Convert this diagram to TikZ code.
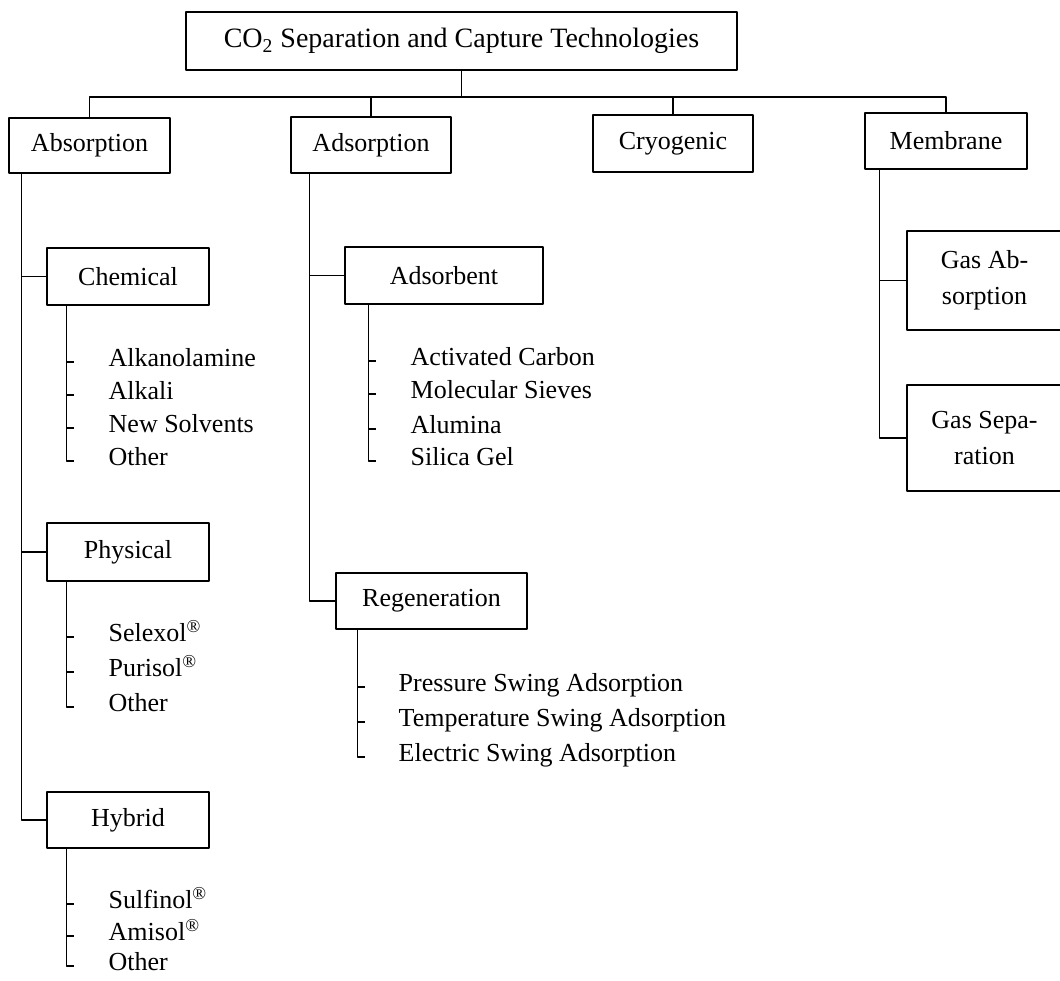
\documentclass[tikz,border=0pt]{standalone}
\usepackage{fontspec}
\setmainfont{Liberation Serif}
\usetikzlibrary{positioning}

\tikzset{
  techbox/.style={draw=black,rectangle,inner sep=0pt,align=center,
    font=\fontsize{13bp}{18bp}\selectfont},
  item/.style={anchor=mid west,inner sep=0pt,yshift=-2bp,
    font=\fontsize{13bp}{15bp}\selectfont},
}
\newcommand{\reg}{\textsuperscript{\textregistered}}

\begin{document}
\begin{tikzpicture}[x=0.5bp,y=-0.5bp,line width=0.7pt,line join=bevel]
\useasboundingbox (0,0) rectangle (1060,981);
\clip (0,0) rectangle (1060,981);
%%
\node (title) at (461.5,41) [techbox,minimum width=275.5bp,minimum height=29bp,
  font=\fontsize{14bp}{16bp}\selectfont] {CO\textsubscript{2} Separation and Capture Technologies};
  \node (absorp) at (89.5,145.5) [techbox,minimum width=80.5bp,minimum height=27.5bp] {Absorption};
  \node (adsorp) at (371,145) [techbox,minimum width=80bp,minimum height=28bp] {Adsorption};
  \node (cryo) at (673,143.5) [techbox,minimum width=80bp,minimum height=28.5bp] {Cryogenic};
  \node (membr) at (946,141) [techbox,minimum width=81bp,minimum height=28bp] {Membrane};
  \coordinate (bus) at (0,97);
%% absorption branch
  \node (chem) at (128,276.5) [techbox,minimum width=81bp,minimum height=28.5bp] {Chemical};
  \node (phys) at (128,552) [techbox,minimum width=81bp,minimum height=29bp] {Physical};
  \node (hyb) at (128,820) [techbox,minimum width=81bp,minimum height=28bp] {Hybrid};
  \node (chem1) at (108,358) [item] {Alkanolamine};
  \node (chem2) at (108,391) [item] {Alkali};
  \node (chem3) at (108,424) [item] {New Solvents};
  \node (chem4) at (108,457) [item] {Other};
  \node (phys1) at (108,633) [item] {Selexol\reg};
  \node (phys2) at (108,668) [item] {Purisol\reg};
  \node (phys3) at (108,703) [item] {Other};
  \node (hyb1) at (108,900) [item] {Sulfinol\reg};
  \node (hyb2) at (108,932) [item] {Amisol\reg};
  \node (hyb3) at (108,962) [item] {Other};
%% adsorption branch
  \node (sorbent) at (444,275.5) [techbox,minimum width=99bp,minimum height=28.5bp] {Adsorbent};
  \node (regen) at (431.5,601) [techbox,minimum width=95.5bp,minimum height=28bp] {Regeneration};
  \node (sorb1) at (410,357) [item] {Activated Carbon};
  \node (sorb2) at (410,390) [item] {Molecular Sieves};
  \node (sorb3) at (410,425) [item] {Alumina};
  \node (sorb4) at (410,457) [item] {Silica Gel};
  \node (regen1) at (398,683) [item] {Pressure Swing Adsorption};
  \node (regen2) at (398,718) [item] {Temperature Swing Adsorption};
  \node (regen3) at (398,753) [item] {Electric Swing Adsorption};
%% membrane branch
  \node (gasabs) at (984.5,280.5) [techbox,minimum width=77.5bp,minimum height=49.5bp] {Gas Ab-\\sorption};
  \node (gassep) at (984.5,438) [techbox,minimum width=77.5bp,minimum height=53bp] {Gas Sepa-\\ration};
%% spines
  \coordinate (abssp) at ([xshift=6.5bp]absorp.south west);
  \coordinate (adssp) at ([xshift=9.5bp]adsorp.south west);
  \coordinate (memsp) at ([xshift=7.5bp]membr.south west);
  \coordinate (chemsp) at ([xshift=10bp]chem.south west);
  \coordinate (physsp) at ([xshift=10bp]phys.south west);
  \coordinate (hybsp) at ([xshift=10bp]hyb.south west);
  \coordinate (sorbsp) at ([xshift=12bp]sorbent.south west);
  \coordinate (regensp) at ([xshift=11bp]regen.south west);
%% top level
  \draw (title) -- (title |- bus);
  \draw (absorp) -- (absorp |- bus) -- (membr |- bus) -- (membr);
  \draw (adsorp) -- (adsorp |- bus);
  \draw (cryo) -- (cryo |- bus);
%% second level
  \draw (abssp) |- (hyb);
  \draw (abssp |- chem.west) -- (chem);
  \draw (abssp |- phys.west) -- (phys);
  \draw (adssp) |- (regen);
  \draw (adssp |- sorbent.west) -- (sorbent);
  \draw (memsp) |- (gassep);
  \draw (memsp |- gasabs.west) -- (gasabs);
%% lists
  \draw (chemsp) -- (chemsp |- chem4.mid) -- ++(8,0);
  \draw (chemsp |- chem1.mid) -- ++(8,0);
  \draw (chemsp |- chem2.mid) -- ++(8,0);
  \draw (chemsp |- chem3.mid) -- ++(8,0);
  \draw (physsp) -- (physsp |- phys3.mid) -- ++(8,0);
  \draw (physsp |- phys1.mid) -- ++(8,0);
  \draw (physsp |- phys2.mid) -- ++(8,0);
  \draw (hybsp) -- (hybsp |- hyb3.mid) -- ++(8,0);
  \draw (hybsp |- hyb1.mid) -- ++(8,0);
  \draw (hybsp |- hyb2.mid) -- ++(8,0);
  \draw (sorbsp) -- (sorbsp |- sorb4.mid) -- ++(8,0);
  \draw (sorbsp |- sorb1.mid) -- ++(8,0);
  \draw (sorbsp |- sorb2.mid) -- ++(8,0);
  \draw (sorbsp |- sorb3.mid) -- ++(8,0);
  \draw (regensp) -- (regensp |- regen3.mid) -- ++(8,0);
  \draw (regensp |- regen1.mid) -- ++(8,0);
  \draw (regensp |- regen2.mid) -- ++(8,0);
%
\end{tikzpicture}
\end{document}
